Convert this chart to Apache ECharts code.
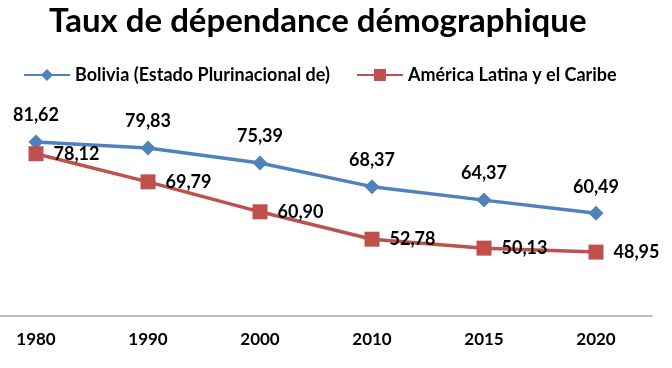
<!DOCTYPE html>
<html><head><meta charset="utf-8">
<script src="https://cdn.jsdelivr.net/npm/echarts@6/dist/echarts.min.js"></script>
<style>html,body{margin:0;padding:0;background:#fff}#c{width:672px;height:368px}</style>
</head><body><div id="c"></div>
<script>
const categories = ['1980','1990','2000','2010','2015','2020'];
const bolivia = [81.62, 79.83, 75.39, 68.37, 64.37, 60.49];
const latam = [78.12, 69.79, 60.90, 52.78, 50.13, 48.95];
const seriesNames = ['Bolivia (Estado Plurinacional de)', 'América Latina y el Caribe'];
const FONT = 'Lato';
const fmt = p => p.value.toFixed(2).replace('.', ',');
const chart = echarts.init(document.getElementById('c'));
chart.setOption({
  animation: false,
  title: { text: 'Taux de dépendance démographique', left: 44, top: 0,
    textStyle: { fontFamily: FONT, fontWeight: 'bold', fontSize: 33, color: '#000' } },
  legend: { top: 61, left: 18, itemGap: 26, itemWidth: 46, itemHeight: 15,
    textStyle: { fontFamily: FONT, fontWeight: 'bold', fontSize: 18, color: '#000' } },
  grid: { left: -20, right: 20, top: 80, bottom: 52, outerBoundsMode: 'none', containLabel: false },
  xAxis: { type: 'category', data: categories, boundaryGap: true,
    axisLine: { lineStyle: { color: '#a6a6a6', width: 1.5 } }, axisTick: { show: false },
    axisLabel: { margin: 15, fontFamily: FONT, fontWeight: 'bold', fontSize: 17, color: '#000' } },
  yAxis: { type: 'value', min: 30, max: 100, show: false, splitLine: { show: false } },
  series: [
    { name: seriesNames[0], type: 'line', data: bolivia, symbol: 'diamond', symbolSize: 15,
      color: '#4F81BD', lineStyle: { width: 3.5, color: '#4F81BD' },
      label: { show: true, position: 'top', distance: 10, formatter: fmt,
        fontFamily: FONT, fontWeight: 'bold', fontSize: 18, color: '#000' } },
    { name: seriesNames[1], type: 'line', data: latam, symbol: 'rect', symbolSize: 15,
      color: '#C0504D', lineStyle: { width: 3.5, color: '#C0504D' },
      label: { show: true, position: 'right', distance: 10, formatter: fmt,
        fontFamily: FONT, fontWeight: 'bold', fontSize: 18, color: '#000' } }
  ]
});
</script></body></html>
